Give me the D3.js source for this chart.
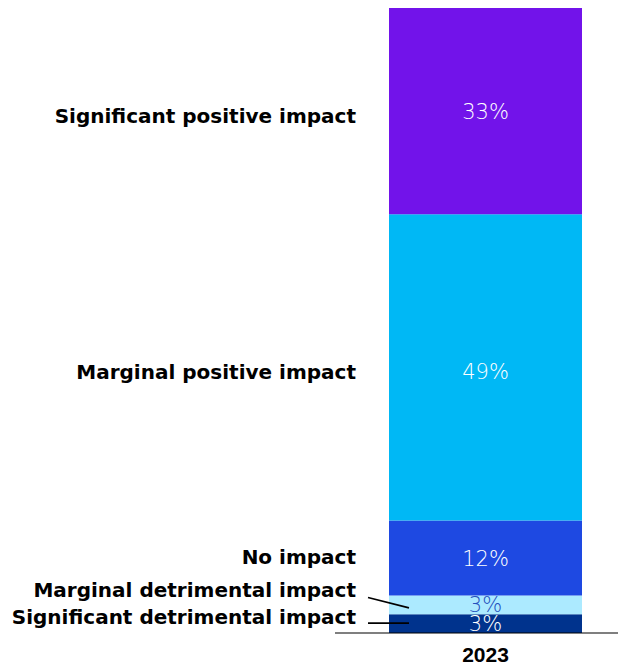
<!DOCTYPE html>
<html>
<head>
<meta charset="utf-8">
<script src="https://cdn.jsdelivr.net/npm/d3@7"></script>
<style>
  html, body { margin: 0; padding: 0; background: #fff; }
  svg { display: block; }
</style>
</head>
<body>
<svg id="chart" width="618" height="668"></svg>
<script>
// Survey responses for 2023, stacked bottom-to-top
const years = ["2023"];
const categories = [
  "Significant detrimental impact",
  "Marginal detrimental impact",
  "No impact",
  "Marginal positive impact",
  "Significant positive impact"
];
const values2023 = [3, 3, 12, 49, 33];
const colors = ["#00338d", "#aceaff", "#1e49e2", "#00b8f5", "#7213ea"];
const valueColors = ["#ffffff", "#2450bd", "#ffffff", "#ffffff", "#ffffff"];

const svg = d3.select("#chart");
const baseY = 633, topY = 8;

const x = d3.scaleBand().domain(years).range([389, 582]).padding(0);
const y = d3.scaleLinear().domain([0, d3.sum(values2023)]).range([baseY, topY]);

const rows = categories.map((c, i) => ({ cat: c, v: values2023[i], i }));
let acc = 0;
rows.forEach(r => { r.y0 = acc; acc += r.v; r.y1 = acc; r.mid = (y(r.y0) + y(r.y1)) / 2; });

// bar segments
svg.append("g").selectAll("rect").data(rows).join("rect")
  .attr("x", x("2023"))
  .attr("width", x.bandwidth())
  .attr("y", d => y(d.y1))
  .attr("height", d => y(d.y0) - y(d.y1))
  .attr("fill", d => colors[d.i]);

// value labels, centred in each segment
const cx = x("2023") + x.bandwidth() / 2;
const valueNudge = [0, 0, 0, 4, 0];
svg.append("g").selectAll("text").data(rows).join("text")
  .attr("x", cx)
  .attr("y", d => d.mid + valueNudge[d.i])
  .attr("dy", "0.36em")
  .attr("text-anchor", "middle")
  .attr("font-family", "'DejaVu Sans', sans-serif")
  .attr("font-weight", 200)
  .attr("font-size", 21)
  .attr("fill", d => valueColors[d.i])
  .text(d => d.v + "%");

// category labels on the left (the two thin segments are fanned out with leader lines)
const catNudge = [-7, -15, -1, 4.5, 4.5];
svg.append("g").selectAll("text").data(rows).join("text")
  .attr("x", 356)
  .attr("y", d => d.mid + catNudge[d.i])
  .attr("dy", "0.36em")
  .attr("text-anchor", "end")
  .attr("font-family", "'DejaVu Sans', sans-serif")
  .attr("font-weight", "bold")
  .attr("font-size", 20)
  .attr("fill", "#000")
  .text(d => d.cat);

// leader lines for the two thin segments
svg.append("line")
  .attr("x1", 368).attr("y1", 597.5)
  .attr("x2", 409).attr("y2", rows[1].mid + 3)
  .attr("stroke", "#000").attr("stroke-width", 1.6);
svg.append("line")
  .attr("x1", 368).attr("y1", rows[0].mid - 0.5)
  .attr("x2", 409).attr("y2", rows[0].mid - 0.5)
  .attr("stroke", "#000").attr("stroke-width", 1.6);

// baseline axis
const xAxis = d3.axisBottom(x).tickSize(0).tickPadding(14);
const axisG = svg.append("g").attr("transform", `translate(0,${baseY})`).call(xAxis);
axisG.select(".domain").remove();
axisG.append("line").attr("x1", 335).attr("x2", 618).attr("y1", 0).attr("y2", 0)
  .attr("stroke", "#000").attr("stroke-width", 1.2);
axisG.selectAll(".tick text")
  .attr("font-family", "'Liberation Sans', Arial, sans-serif")
  .attr("font-weight", "bold")
  .attr("font-size", 21)
  .attr("fill", "#000");
</script>
</body>
</html>
